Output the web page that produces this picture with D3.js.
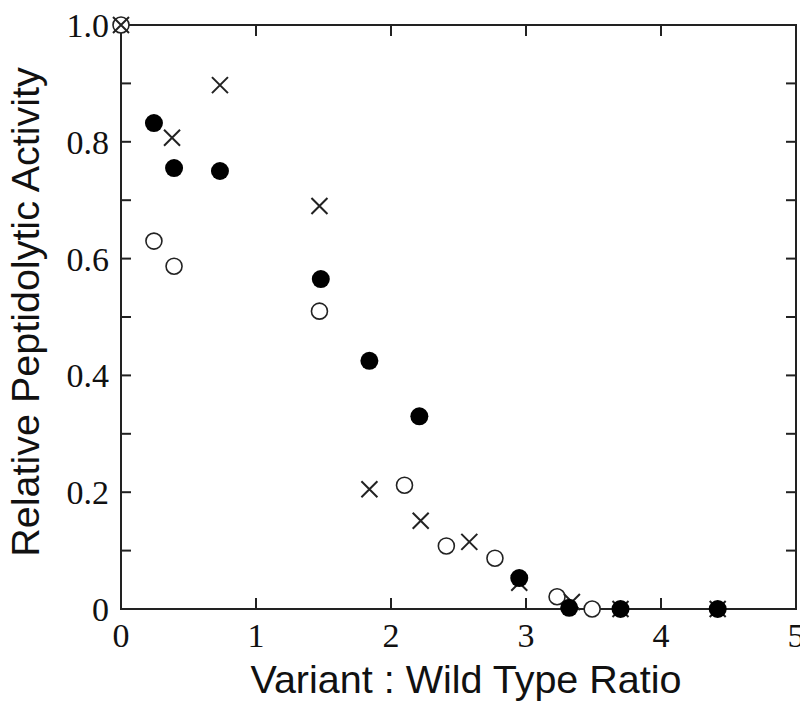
<!DOCTYPE html>
<html lang="en">
<head>
    <meta charset="UTF-8">
    <title>Relative Peptidolytic Activity</title>
    <script src="https://d3js.org/d3.v7.min.js"></script>
    <style>
        body { margin: 0; background: white; }
        .tick-label { font-family: "Liberation Serif", "Times New Roman", serif; font-size: 34px; fill: #111; }
        .axis-title { font-family: "Liberation Sans", Arial, sans-serif; font-size: 39.5px; fill: #111; }
    </style>
</head>
<body>
    <svg width="800" height="701"></svg>

    <script>
        // filled circles
        const filledX = [0.244, 0.393, 0.733, 1.48, 1.84, 2.21, 2.95, 3.32, 3.70, 4.42];
        const filledY = [0.832, 0.755, 0.750, 0.565, 0.425, 0.330, 0.053, 0.002, 0, 0];
        // open circles
        const openX = [0, 0.244, 0.393, 1.47, 2.10, 2.41, 2.77, 3.23, 3.49];
        const openY = [1.0, 0.630, 0.587, 0.510, 0.212, 0.108, 0.087, 0.021, 0];
        // crosses
        const crossX = [0, 0.378, 0.733, 1.47, 1.84, 2.22, 2.58, 2.95, 3.34, 3.70, 4.42];
        const crossY = [1.0, 0.807, 0.897, 0.690, 0.205, 0.151, 0.115, 0.045, 0.012, 0, 0];

        const xTicks = [0, 1, 2, 3, 4, 5];
        const yTicks = [0, 0.2, 0.4, 0.6, 0.8, 1.0];
        const yTickLabels = ["0", "0.2", "0.4", "0.6", "0.8", "1.0"];

        const svg = d3.select("svg"),
            margin = {top: 25, right: 4, bottom: 92, left: 121},
            width = +svg.attr("width") - margin.left - margin.right,
            height = +svg.attr("height") - margin.top - margin.bottom;

        const x = d3.scaleLinear().domain([0, 5]).range([0, width]);
        const y = d3.scaleLinear().domain([0, 1]).range([height, 0]);

        const g = svg.append("g")
            .attr("transform", `translate(${margin.left},${margin.top})`);

        // frame
        g.append("rect")
            .attr("width", width)
            .attr("height", height)
            .attr("fill", "none")
            .attr("stroke", "#222")
            .attr("stroke-width", 2);

        // x ticks (inside, top and bottom)
        const xInner = [1, 2, 3, 4];
        g.selectAll(".xtb").data(xInner).enter().append("line")
            .attr("x1", d => x(d)).attr("x2", d => x(d))
            .attr("y1", height).attr("y2", height - 11)
            .attr("stroke", "#222").attr("stroke-width", 2);
        g.selectAll(".xtt").data(xInner).enter().append("line")
            .attr("x1", d => x(d)).attr("x2", d => x(d))
            .attr("y1", 0).attr("y2", 11)
            .attr("stroke", "#222").attr("stroke-width", 2);

        // y ticks every 0.1 on both sides
        const yMinor = d3.range(1, 10).map(d => d / 10);
        g.selectAll(".ytl").data(yMinor).enter().append("line")
            .attr("x1", 0).attr("x2", 10)
            .attr("y1", d => y(d)).attr("y2", d => y(d))
            .attr("stroke", "#222").attr("stroke-width", 2);
        g.selectAll(".ytr").data(yMinor).enter().append("line")
            .attr("x1", width).attr("x2", width - 10)
            .attr("y1", d => y(d)).attr("y2", d => y(d))
            .attr("stroke", "#222").attr("stroke-width", 2);

        // tick labels
        g.selectAll(".xl").data(xTicks).enter().append("text")
            .attr("class", "tick-label")
            .attr("x", d => x(d))
            .attr("y", height + 38)
            .attr("text-anchor", "middle")
            .text(d => d);

        g.selectAll(".yl").data(yTicks).enter().append("text")
            .attr("class", "tick-label")
            .attr("x", -12)
            .attr("y", d => y(d) + 12)
            .attr("text-anchor", "end")
            .text((d, i) => yTickLabels[i]);

        // axis titles
        svg.append("text")
            .attr("class", "axis-title")
            .attr("x", 466)
            .attr("y", 693)
            .attr("text-anchor", "middle")
            .text("Variant : Wild Type Ratio");

        svg.append("text")
            .attr("class", "axis-title")
            .attr("transform", "translate(39,312) rotate(-90)")
            .attr("text-anchor", "middle")
            .text("Relative Peptidolytic Activity");

        // open circles
        g.selectAll(".open").data(openX).enter().append("circle")
            .attr("cx", d => x(d))
            .attr("cy", (d, i) => y(openY[i]))
            .attr("r", 8)
            .attr("fill", "white")
            .attr("stroke", "#222")
            .attr("stroke-width", 1.6);

        // crosses
        const s = 8;
        g.selectAll(".cross").data(crossX).enter().append("path")
            .attr("transform", (d, i) => `translate(${x(d)},${y(crossY[i])})`)
            .attr("d", `M${-s},${-s}L${s},${s}M${-s},${s}L${s},${-s}`)
            .attr("stroke", "#222")
            .attr("stroke-width", 2)
            .attr("fill", "none");

        // filled circles
        g.selectAll(".filled").data(filledX).enter().append("circle")
            .attr("cx", d => x(d))
            .attr("cy", (d, i) => y(filledY[i]))
            .attr("r", 9)
            .attr("fill", "#000");
    </script>
</body>
</html>
